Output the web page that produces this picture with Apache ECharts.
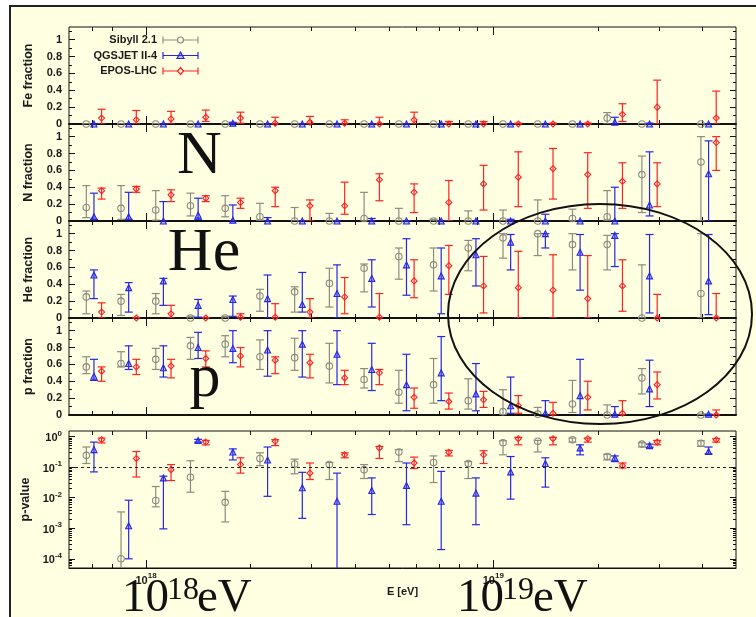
<!DOCTYPE html>
<html>
<head>
<meta charset="utf-8">
<script src="https://cdn.jsdelivr.net/npm/echarts@6/dist/echarts.min.js"></script>
<style>
  html, body { margin: 0; padding: 0; background: #fff; }
  #chart { width: 756px; height: 617px; }
</style>
</head>
<body>
<div id="chart"></div>
<script>
// bin centres in log10(E/eV); the last one is the open bin above 10^19.5
const logE = [17.85, 17.95, 18.05, 18.15, 18.25, 18.35, 18.45, 18.55, 18.65,
              18.75, 18.85, 18.95, 19.05, 19.15, 19.25, 19.35, 19.45, 19.62];

// every entry: [value, low end of error bar, high end of error bar]
const sibyllFe = [[0,0,0],[0,0,0],[0,0,0],[0,0,0],[0,0,0],[0,0,0],[0,0,0],[0,0,0],[0,0,0],
                  [0,0,0],[0,0,0],[0,0,0],[0,0,0],[0,0,0],[0,0,0],[0.07,0,0.135],[0,0,0],[0,0,0]];
const qgsjetFe = [[0,0,0],[0,0,0],[0,0,0],[0,0,0],[0.01,0,0.02],[0,0,0],[0,0,0],[0,0,0],[0,0,0],
                  [0,0,0],[0,0,0],[0,0,0],[0,0,0],[0,0,0],[0,0,0],[0.02,0,0.08],[0,0,0.01],[0,0,0]];
const eposFe = [[0.07,0,0.175],[0.05,0,0.16],[0.06,0,0.15],[0.08,0.03,0.165],[0.07,0.01,0.14],
                [0.01,0,0.08],[0.02,0,0.09],[0.01,0,0.05],[0,0,0.08],[0.05,0,0.14],[0,0,0.03],
                [0,0,0.03],[0,0,0.01],[0,0,0.01],[0,0,0.01],[0.115,0.03,0.24],[0.2,0,0.52],[0.07,0,0.39]];

const sibyllN = [[0.16,0.04,0.42],[0.15,0.02,0.42],[0.13,0.01,0.36],[0.18,0.06,0.33],[0.15,0.05,0.30],
                 [0.05,0.01,0.21],[0,0,0.16],[0,0,0.09],[0.03,0,0.34],[0,0,0.15],[0,0,0.02],[0,0,0.12],
                 [0,0,0.13],[0,0,0.25],[0.03,0,0.14],[0.05,0.01,0.36],[0.55,0.10,0.77],[0.70,0,1.0]];
const qgsjetN = [[0.05,0.02,0.33],[0.05,0.02,0.34],[0,0,0.23],[0.07,0.02,0.27],[0.01,0,0.19],
                 [0,0,0.04],[0,0,0],[0,0,0],[0,0,0.03],[0,0,0],[0,0,0],[0,0,0],[0,0,0.02],
                 [0,0,0.08],[0,0,0],[0,0,0.40],[0.19,0.06,0.82],[0.56,0,0.95]];
const eposN = [[0.36,0.26,0.39],[0.38,0.34,0.41],[0.31,0.23,0.37],[0.27,0.23,0.30],[0.22,0.15,0.27],
               [0.36,0.17,0.40],[0.18,0,0.25],[0.18,0.08,0.46],[0.49,0.24,0.56],[0.34,0.10,0.44],
               [0.22,0,0.48],[0.44,0.13,0.66],[0.52,0.17,0.82],[0.62,0.26,0.86],[0.55,0.15,0.81],
               [0.47,0.15,0.69],[0.44,0.17,0.69],[0.93,0.60,1.0]];

const sibyllHe = [[0.25,0.05,0.32],[0.20,0.03,0.28],[0.20,0.05,0.29],[0,0,0.02],[0,0,0.02],
                  [0.26,0.08,0.34],[0.31,0.07,0.37],[0.41,0.13,0.59],[0.59,0.31,0.64],[0.73,0.46,0.83],
                  [0.63,0.32,0.83],[0.83,0.56,0.92],[0.95,0.71,1.0],[1.0,0.74,1.0],[0.87,0.57,1.0],
                  [0.87,0.57,0.98],[0,0,0.63],[0.29,0,1.0]];
const qgsjetHe = [[0.51,0.23,0.57],[0.36,0.07,0.42],[0.44,0.15,0.47],[0.15,0.01,0.22],[0.22,0.02,0.26],
                  [0.23,0,0.51],[0.16,0.07,0.54],[0.29,0,0.63],[0.47,0.13,0.69],[0.63,0.27,0.94],
                  [0.50,0.05,0.83],[0.75,0.38,0.94],[0.90,0.57,0.99],[1.0,0.83,1.0],[0.78,0.33,0.99],
                  [0.98,0.61,1.0],[0.50,0.06,0.99],[0.44,0.04,0.99]];
const eposHe = [[0.07,0,0.18],[0,0,0],[0.05,0,0.15],[0,0,0],[0.01,0,0.05],[0.01,0,0.17],[0.07,0,0.23],
                [0.25,0.05,0.48],[0.01,0,0.29],[0.44,0.24,0.69],[0.62,0.28,0.86],[0.38,0.06,0.73],
                [0.36,0,0.79],[0.33,0,0.75],[0.23,0,0.74],[0.38,0.08,0.69],[0,0,0.28],[0,0,0.29]];

const sibyllP = [[0.57,0.49,0.69],[0.61,0.57,0.75],[0.66,0.54,0.79],[0.82,0.66,0.92],[0.84,0.69,0.94],
                 [0.69,0.54,0.89],[0.68,0.53,0.91],[0.58,0.38,0.85],[0.42,0.32,0.55],[0.27,0.14,0.53],
                 [0.36,0.14,0.67],[0.17,0.07,0.43],[0.04,0,0.30],[0.01,0,0.09],[0.13,0.03,0.41],
                 [0,0,0.12],[0.44,0.25,0.55],[0,0,0.01]];
const qgsjetP = [[0.46,0.41,0.66],[0.61,0.54,0.82],[0.56,0.45,0.82],[0.80,0.67,0.98],[0.79,0.62,1.0],
                 [0.77,0.46,1.0],[0.84,0.45,1.0],[0.72,0.36,1.0],[0.54,0.29,0.85],[0.36,0.05,0.72],
                 [0.50,0.17,0.93],[0.25,0.05,0.61],[0.11,0.02,0.45],[0.02,0,0.17],[0.23,0,0.66],
                 [0.01,0,0.10],[0.31,0.10,0.65],[0.01,0,0.01]];
const eposP = [[0.52,0.40,0.57],[0.57,0.48,0.66],[0.58,0.44,0.66],[0.67,0.57,0.76],[0.70,0.57,0.80],
               [0.65,0.49,0.69],[0.62,0.44,0.72],[0.44,0.36,0.53],[0.50,0.36,0.54],[0.21,0.08,0.32],
               [0.16,0.07,0.26],[0.18,0.09,0.28],[0.11,0.02,0.23],[0.02,0,0.15],[0.21,0.06,0.40],
               [0.02,0,0.17],[0.36,0.19,0.51],[0,0,0.06]];

const sibyllPval = [[0.24,0.13,0.45],[1e-4,3e-5,0.0034],[0.008,0.005,0.023],[0.046,0.015,0.16],
                    [0.007,0.0016,0.016],[0.19,0.11,0.29],[0.125,0.06,0.18],[0.12,0.039,0.14],
                    [0.082,0.042,0.12],[0.31,0.15,0.37],[0.14,0.031,0.23],[0.13,0.042,0.15],
                    [0.62,0.25,0.72],[0.69,0.31,0.74],[0.78,0.65,0.88],[0.22,0.17,0.26],
                    [0.56,0.45,0.62],[0.60,0.47,0.72]];
const qgsjetPval = [[0.37,0.069,0.65],[0.0012,1e-4,0.0082],[0.044,0.00095,0.05],[0.74,0.65,0.80],
                    [0.31,0.17,0.39],[0.17,0.011,0.45],[0.021,0.0021,0.067],[0.0076,1e-5,0.063],
                    [0.017,0.0028,0.044],[0.025,0.0013,0.135],[0.0076,0.0002,0.072],[0.014,0.0013,0.044],
                    [0.069,0.0089,0.22],[0.13,0.022,0.20],[0.42,0.25,0.53],[0.20,0.15,0.23],
                    [0.50,0.44,0.56],[0.32,0.27,0.45]];
const eposPval = [[0.78,0.61,0.88],[0.19,0.047,0.32],[0.082,0.036,0.12],[0.65,0.53,0.74],
                  [0.12,0.063,0.20],[0.69,0.50,0.78],[0.063,0.039,0.135],[0.25,0.20,0.29],
                  [0.42,0.19,0.47],[0.135,0.089,0.21],[0.30,0.23,0.35],[0.25,0.13,0.34],
                  [0.84,0.53,0.93],[0.84,0.53,0.93],[0.84,0.65,0.88],[0.11,0.093,0.135],
                  [0.65,0.53,0.74],[0.78,0.65,0.85]];

// tick positions (log10 E) and labels
const xMajorTicks = [18, 19];
const xMinorTicks = [7e17, 8e17, 2e18, 3e18, 4e18, 5e18, 6e18, 7e18, 8e18, 9e18, 2e19, 3e19, 4e19].map(Math.log10);
const fracMajorTicks = [0, 0.2, 0.4, 0.6, 0.8, 1];
const fracMinorTicks = [0.1, 0.3, 0.5, 0.7, 0.9, 1.1];
const pvalMajorTicks = [-4, -3, -2, -1, 0];
const pvalMinorTicks = [];
for (let n = -5; n <= 0; n++) for (let k = 2; k <= 9; k++) pvalMinorTicks.push(n + Math.log10(k));

const FONT = 'Liberation Sans';
const SERIF = 'Liberation Serif';
const INK = '#1a1a1a';

const models = [
  { name: 'Sibyll 2.1', shift: -0.022, color: '#8b8b7e', symbol: 'circle', size: 6.5, fill: 'rgba(0,0,0,0)' },
  { name: 'QGSJET II-4', shift: 0, color: '#2626e6', symbol: 'triangle', size: 6, fill: 'rgba(60,60,240,0.35)' },
  { name: 'EPOS-LHC', shift: 0.022, color: '#ff2222', symbol: 'diamond', size: 6, fill: 'rgba(0,0,0,0)' },
];

const panels = [
  { name: 'Fe fraction', top: 27, height: 97, sets: [sibyllFe, qgsjetFe, eposFe] },
  { name: 'N fraction', top: 124, height: 97, sets: [sibyllN, qgsjetN, eposN] },
  { name: 'He fraction', top: 221, height: 97, sets: [sibyllHe, qgsjetHe, eposHe] },
  { name: 'p fraction', top: 318, height: 97, sets: [sibyllP, qgsjetP, eposP] },
  { name: 'p-value', top: 431, height: 137, sets: [sibyllPval, qgsjetPval, eposPval], log: true },
];

const supRich = {
  b: { fontFamily: FONT, fontWeight: 'bold', fontSize: 11, color: INK, lineHeight: 14, verticalAlign: 'bottom' },
  s: { fontFamily: FONT, fontWeight: 'bold', fontSize: 8, color: INK, lineHeight: 8, verticalAlign: 'top' },
};

const grid = [], xAxis = [], yAxis = [], series = [];

panels.forEach((p, i) => {
  const last = i === panels.length - 1;
  grid.push({ left: 69, right: 20, top: p.top, height: p.height, show: true,
              borderColor: '#111', borderWidth: 1, backgroundColor: 'transparent' });

  const xBase = { gridIndex: i, type: 'value', min: Math.log10(6e17), max: Math.log10(5e19),
                  splitLine: { show: false }, axisLine: { show: false, onZero: false }, axisLabel: { show: false } };
  const tick = (vals, len) => ({ show: true, inside: true, length: len, customValues: vals,
                                 lineStyle: { color: '#111', width: 1 } });
  xAxis.push({ ...xBase, position: 'bottom',
    axisLine: { show: true, onZero: false, lineStyle: { color: '#111', width: p.log ? 1 : 2 } },
    axisTick: tick(xMajorTicks, 8),
    axisLabel: last ? { show: true, customValues: xMajorTicks, margin: 4, rich: supRich,
                        formatter: v => '{b|10}{s|' + Math.round(v) + '}' } : { show: false },
    name: last ? 'E [eV]' : '', nameLocation: 'middle', nameGap: 17,
    nameTextStyle: { fontFamily: FONT, fontWeight: 'bold', fontSize: 11, color: INK } });
  xAxis.push({ ...xBase, position: 'bottom', axisTick: tick(xMinorTicks, 4) });
  xAxis.push({ ...xBase, position: 'top', axisTick: tick(xMajorTicks, 8) });
  xAxis.push({ ...xBase, position: 'top', axisTick: tick(xMinorTicks, 4) });

  const yMin = p.log ? Math.log10(5e-5) : 0;
  const yMax = p.log ? Math.log10(1.5) : 1.15;
  const major = p.log ? pvalMajorTicks : fracMajorTicks;
  const minor = p.log ? pvalMinorTicks.filter(v => v > yMin && v < yMax) : fracMinorTicks;
  const yBase = { gridIndex: i, type: 'value', min: yMin, max: yMax, splitLine: { show: false },
                  axisLine: { show: false, onZero: false }, axisLabel: { show: false } };
  yAxis.push({ ...yBase, position: 'left', axisTick: tick(major, 6),
    axisLabel: {
      show: true, customValues: major, margin: 7,
      fontFamily: FONT, fontWeight: 'bold', fontSize: 11, color: INK, rich: supRich,
      formatter: p.log ? (v => '{b|10}{s|' + v + '}') : (v => String(v)),
    },
    name: p.name, nameLocation: 'middle', nameRotate: 90, nameGap: p.log ? 37 : 34,
    nameTextStyle: { fontFamily: FONT, fontWeight: 'bold', fontSize: 12.5, color: INK } });
  yAxis.push({ ...yBase, position: 'left', axisTick: tick(minor, 3) });
  yAxis.push({ ...yBase, position: 'right', axisTick: tick(major, 6) });
  yAxis.push({ ...yBase, position: 'right', axisTick: tick(minor, 3) });

  models.forEach((m, k) => {
    const rows = p.sets[k].map((d, j) => {
      const t = p.log ? d.map(Math.log10) : d;
      return [logE[j] + m.shift, t[0], t[1], t[2]];
    });
    series.push({
      type: 'custom', name: m.name, xAxisIndex: 4 * i, yAxisIndex: 4 * i, clip: true, silent: true, z: 3,
      itemStyle: { color: m.color }, encode: { x: 0, y: [1, 2, 3] }, data: rows,
      renderItem(params, api) {
        const x = api.value(0);
        const lo = api.coord([x, api.value(2)]);
        const hi = api.coord([x, api.value(3)]);
        const st = { stroke: m.color, lineWidth: 1.2 };
        const w = 4;
        return { type: 'group', children: [
          { type: 'line', shape: { x1: lo[0], y1: lo[1], x2: hi[0], y2: hi[1] }, style: st },
          { type: 'line', shape: { x1: lo[0] - w, y1: lo[1], x2: lo[0] + w, y2: lo[1] }, style: st },
          { type: 'line', shape: { x1: hi[0] - w, y1: hi[1], x2: hi[0] + w, y2: hi[1] }, style: st },
        ] };
      },
    });
    const pts = {
      type: 'scatter', name: m.name, xAxisIndex: 4 * i, yAxisIndex: 4 * i, z: 4, silent: true,
      symbol: m.symbol, symbolSize: m.size,
      itemStyle: { color: m.fill, borderColor: m.color, borderWidth: 1.1, opacity: 1 },
      data: rows.map(r => [r[0], r[1]]),
    };
    if (p.log && k === 0) {
      pts.markLine = { silent: true, symbol: 'none', label: { show: false },
        lineStyle: { color: '#222', type: [3, 3], width: 1 }, data: [{ yAxis: Math.log10(0.1) }] };
    }
    series.push(pts);
  });
});

// gnuplot-style key: text on the left, sample on the right
const legendEls = [];
models.forEach((m, k) => {
  const y = 40 + 15.5 * k;
  const st = { stroke: m.color, lineWidth: 1.2 };
  legendEls.push(
    { type: 'text', z: 50, style: { text: m.name, x: 157, y, align: 'right', verticalAlign: 'middle',
      font: 'bold 11px "' + FONT + '"', fill: INK } },
    { type: 'line', z: 50, shape: { x1: 163, y1: y, x2: 198, y2: y }, style: st },
    { type: 'line', z: 50, shape: { x1: 163, y1: y - 3.5, x2: 163, y2: y + 3.5 }, style: st },
    { type: 'line', z: 50, shape: { x1: 198, y1: y - 3.5, x2: 198, y2: y + 3.5 }, style: st });
  const cx = 180.5;
  const mk = { fill: m.fill, stroke: m.color, lineWidth: 1.2 };
  if (m.symbol === 'circle') legendEls.push({ type: 'circle', z: 51, shape: { cx, cy: y, r: 3 }, style: { ...mk, fill: '#ffffe2' } });
  if (m.symbol === 'triangle') legendEls.push({ type: 'polygon', z: 51, shape: { points: [[cx, y - 3.5], [cx + 3.5, y + 3], [cx - 3.5, y + 3]] }, style: mk });
  if (m.symbol === 'diamond') legendEls.push({ type: 'polygon', z: 51, shape: { points: [[cx, y - 3.5], [cx + 3, y], [cx, y + 3.5], [cx - 3, y]] }, style: { ...mk, fill: '#ffffe2' } });
});

const big = (text, x, y, size, align) => ({ type: 'text', z: 60,
  style: { text, x, y, align: align || 'left', verticalAlign: 'middle', font: size + 'px "' + SERIF + '"', fill: '#111' } });

const chart = echarts.init(document.getElementById('chart'), null, { renderer: 'canvas' });
chart.setOption({
  animation: false,
  backgroundColor: '#ffffff',
  grid, xAxis, yAxis, series,
  graphic: [
    { type: 'rect', z: -100, shape: { x: 10, y: 6, width: 800, height: 700 },
      style: { fill: '#ffffe2', stroke: '#222', lineWidth: 2 } },
    ...legendEls,
    big('N', 199.5, 157, 62, 'center'),
    big('He', 204, 254, 62, 'center'),
    big('p', 205, 380, 62, 'center'),
    big('10', 122, 599, 47), big('18', 167, 591, 32), big('eV', 197, 599, 47),
    big('10', 457, 599, 47), big('19', 502, 591, 32), big('eV', 533, 599, 47),
    { type: 'ellipse', z: 70, shape: { cx: 600, cy: 314, rx: 152, ry: 110 },
      style: { fill: 'none', stroke: '#111', lineWidth: 2 } },
  ],
});
</script>
</body>
</html>
